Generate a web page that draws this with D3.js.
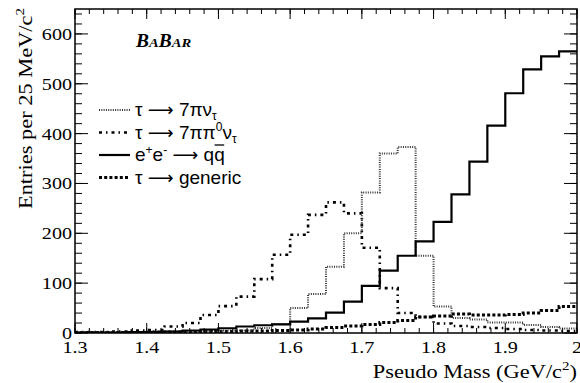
<!DOCTYPE html>
<html>
<head>
<meta charset="utf-8">
<script src="https://cdn.jsdelivr.net/npm/d3@7"></script>
<style>
body { margin: 0; background: #fff; }
svg { display: block; }
.tick-label { font-family: "Liberation Serif", "Times New Roman", serif; font-size: 17.5px; }
.axis-title { font-family: "Liberation Serif", "Times New Roman", serif; font-size: 19.5px; }
.legend { font-family: "Liberation Sans", Arial, sans-serif; font-size: 19px; }
.arrow { font-family: "DejaVu Sans", sans-serif; font-size: 18px; }
</style>
</head>
<body>
<script>
// bin edges: 28 bins of 25 MeV from 1.3 to 2.0 GeV/c^2
var binLow = 1.3, binWidth = 0.025;

var tau7pi = [2, 2, 2, 2, 3, 3, 4, 4, 5, 5, 10, 18, 50, 78, 133, 200, 282, 360, 373, 155, 53, 30, 27, 21, 21, 16, 12, 9];
var tau7pipi0 = [2, 2, 3, 5, 6, 13, 20, 36, 54, 73, 108, 157, 197, 237, 262, 240, 171, 90, 40, 32, 19, 14, 12, 10, 8, 6, 5, 4];
var qqbar = [1, 1, 1, 2, 2, 3, 5, 7, 9.5, 13, 15.5, 17.5, 23, 29.5, 41, 63, 94.5, 125, 155, 184, 223, 278, 344, 416, 481, 529, 555, 565];
var tauGeneric = [1, 1, 1, 1, 2, 2, 2, 3, 3, 4, 4, 5, 6, 8, 11, 14, 17, 21, 25, 32, 34, 38, 36, 36, 37, 40, 45, 53];

var xTicks = [1.3, 1.4, 1.5, 1.6, 1.7, 1.8, 1.9, 2.0];
var yTicks = [0, 100, 200, 300, 400, 500, 600];

var width = 580, height = 383;
var mLeft = 75, mRight = 577, mTop = 9, mBottom = 333;
var stretch = 1.15; // the serif text in the figure is set wide

var svg = d3.select('body').append('svg')
	.attr('width', width)
	.attr('height', height);

var x = d3.scaleLinear().domain([1.3, 2.0]).range([mLeft, mRight]);
var y = d3.scaleLinear().domain([0, 650]).range([mBottom, mTop]);

svg.append('defs').append('clipPath').attr('id', 'frame')
	.append('rect')
	.attr('x', mLeft).attr('y', mTop)
	.attr('width', mRight - mLeft).attr('height', mBottom - mTop);

function steps(values) {
	var pts = values.map(function(v, i) { return [binLow + i * binWidth, v]; });
	pts.push([binLow + values.length * binWidth, values[values.length - 1]]);
	return pts;
}

var line = d3.line()
	.x(function(d) { return x(d[0]); })
	.y(function(d) { return y(d[1]); })
	.curve(d3.curveStepAfter);

var series = [
	{ values: tauGeneric, color: '#000', width: 3, dash: '3,2.2' },
	{ values: tau7pipi0, color: '#000', width: 2.6, dash: '3,4,1.5,4' },
	{ values: tau7pi, color: '#333', width: 2, dash: '1,1.3' },
	{ values: qqbar, color: '#000', width: 2.2, dash: null }
];

var hists = svg.append('g').attr('clip-path', 'url(#frame)');
series.forEach(function(s) {
	hists.append('path')
		.datum(steps(s.values))
		.attr('d', line)
		.style('fill', 'none')
		.style('stroke', s.color)
		.style('stroke-width', s.width)
		.style('stroke-dasharray', s.dash);
});

// axes, ROOT style: ticks on all four sides pointing inward
var xMinor = d3.range(0, 36).map(function(i) { return 1.3 + i * 0.02; });
var yMinor = d3.range(0, 33).map(function(i) { return i * 20; });

var axes = svg.append('g').style('stroke', '#000').style('stroke-width', 1);

function vTick(t, len) {
	axes.append('line').attr('x1', x(t)).attr('x2', x(t)).attr('y1', mBottom).attr('y2', mBottom - len);
	axes.append('line').attr('x1', x(t)).attr('x2', x(t)).attr('y1', mTop).attr('y2', mTop + len);
}
function hTick(t, len) {
	axes.append('line').attr('x1', mLeft).attr('x2', mLeft + len).attr('y1', y(t)).attr('y2', y(t));
	axes.append('line').attr('x1', mRight).attr('x2', mRight - len).attr('y1', y(t)).attr('y2', y(t));
}
xTicks.forEach(function(t) { vTick(t, 10); });
xMinor.forEach(function(t) { vTick(t, 5); });
yTicks.forEach(function(t) { hTick(t, 13); });
yMinor.forEach(function(t) { hTick(t, 7); });

svg.append('rect')
	.attr('x', mLeft).attr('y', mTop)
	.attr('width', mRight - mLeft).attr('height', mBottom - mTop)
	.style('fill', 'none')
	.style('stroke', '#000')
	.style('stroke-width', 1.5);

function wide(px, py) {
	return 'translate(' + px + ',' + py + ') scale(' + stretch + ',1)';
}

svg.selectAll('.xlab').data(xTicks).enter().append('text')
	.attr('class', 'tick-label')
	.attr('transform', function(d) { return wide(x(d), 353); })
	.attr('text-anchor', 'middle')
	.text(function(d) { return d === 2 ? '2' : d3.format('.1f')(d); });

svg.selectAll('.ylab').data(yTicks).enter().append('text')
	.attr('class', 'tick-label')
	.attr('transform', function(d) { return wide(mLeft - 3, y(d) + 6); })
	.attr('text-anchor', 'end')
	.text(function(d) { return d; });

// axis titles
var xt = svg.append('text')
	.attr('class', 'axis-title')
	.attr('transform', wide(mRight, 378))
	.attr('text-anchor', 'end');
xt.append('tspan').text('Pseudo Mass (GeV/c');
xt.append('tspan').attr('dy', -8).style('font-size', '13px').text('2');
xt.append('tspan').attr('dy', 8).text(')');

var yt = svg.append('text')
	.attr('class', 'axis-title')
	.attr('transform', 'translate(32,' + (mTop - 1) + ') rotate(-90) scale(' + stretch + ',1)')
	.attr('text-anchor', 'end');
yt.append('tspan').text('Entries per 25 MeV/c');
yt.append('tspan').attr('dy', -8).style('font-size', '13px').text('2');

// BaBar logo
var logo = svg.append('text')
	.attr('transform', 'translate(136,47) scale(1.08,1)')
	.style('font-family', '"Liberation Serif", "Times New Roman", serif')
	.style('font-weight', 'bold')
	.style('font-style', 'italic')
	.style('font-size', '18px');
logo.append('tspan').text('B');
logo.append('tspan').style('font-size', '13.5px').text('A');
logo.append('tspan').text('B');
logo.append('tspan').style('font-size', '13.5px').text('AR');

// legend: [text, dy, style]  style: 's' = small script, 'a' = arrow, 'q' = anti-quark
var legendRows = [
	{ s: series[2], y: 110, parts: [['τ ', 0], ['⟶', 0, 'a'], [' 7πν', 0], ['τ', 4, 's']] },
	{ s: series[1], y: 132.5, parts: [['τ ', 0], ['⟶', 0, 'a'], [' 7ππ', 0], ['0', -8, 's'], ['ν', 8], ['τ', 4, 's']] },
	{ s: series[3], y: 155, parts: [['e', 0], ['+', -7, 's'], ['e', 7], ['-', -7, 's'], [' ', 7], ['⟶', 0, 'a'], [' q', 0], ['q', 0, 'q']] },
	{ s: series[0], y: 177.5, parts: [['τ ', 0], ['⟶', 0, 'a'], [' generic', 0]] }
];

var legend = svg.append('g');
legendRows.forEach(function(r) {
	legend.append('line')
		.attr('x1', 99).attr('x2', 130)
		.attr('y1', r.y).attr('y2', r.y)
		.style('stroke', r.s.color)
		.style('stroke-width', r.s.width)
		.style('stroke-dasharray', r.s.dash);
	var t = legend.append('text')
		.attr('class', 'legend')
		.attr('x', 135)
		.attr('y', r.y + 6);
	r.parts.forEach(function(p) {
		var sp = t.append('tspan').attr('dy', p[1]).text(p[0]);
		if (p[2] === 's') sp.style('font-size', '12px');
		if (p[2] === 'a') sp.attr('class', 'arrow');
		if (p[2] === 'q') {
			// anti-quark overline
			var bb = sp.node().getBBox();
			legend.append('line')
				.attr('x1', bb.x + 0.5).attr('x2', bb.x + bb.width - 0.5)
				.attr('y1', r.y - 10).attr('y2', r.y - 10)
				.style('stroke', '#000').style('stroke-width', 1.3);
		}
	});
});
</script>
</body>
</html>
